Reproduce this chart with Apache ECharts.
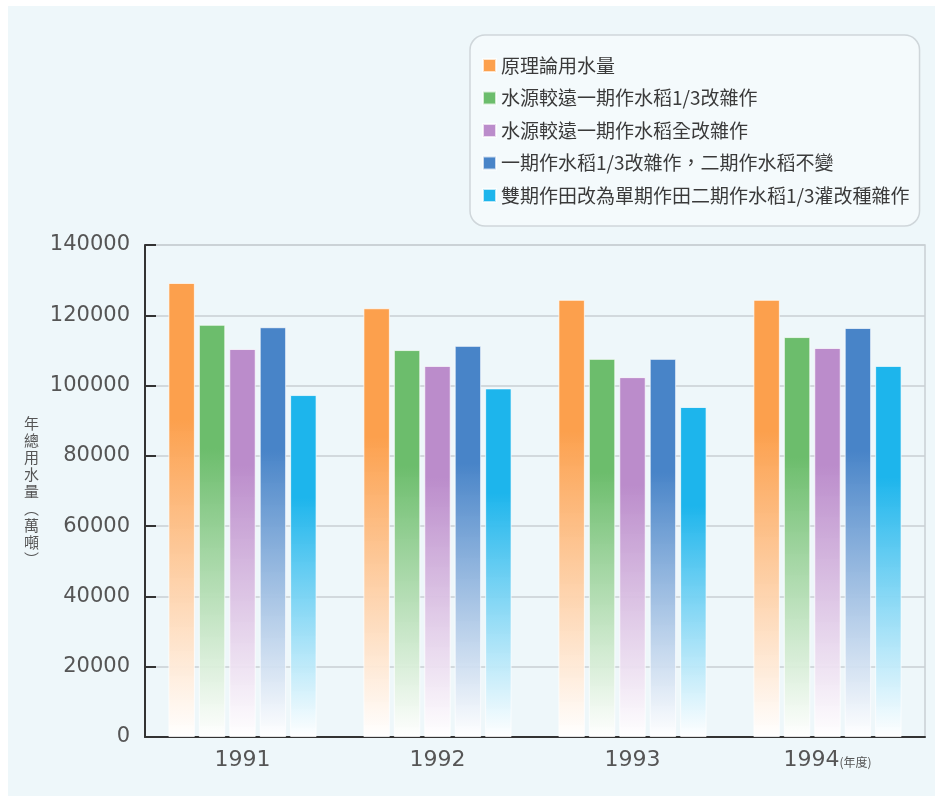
<!DOCTYPE html>
<html>
<head>
    <meta charset="utf-8">
    <title>年總用水量</title>
    <script src="https://cdn.jsdelivr.net/npm/echarts@6/dist/echarts.min.js"></script>
    <style>
        html, body { margin: 0; padding: 0; background: #fff; }
        #panel { position: absolute; left: 8px; top: 6px; width: 927px; height: 790px; background: #eef7fa; }
        #main { position: absolute; left: 0; top: 0; width: 935px; height: 796px; }
    </style>
</head>
<body>
<div id="panel"></div>
<div id="main"></div>
<script>
    // 年度
    var years = ['1991', '1992', '1993', '1994'];
    var yearUnit = '(年度)';

    // 各方案年總用水量（萬噸）
    var names = [
        '原理論用水量',
        '水源較遠一期作水稻1/3改雜作',
        '水源較遠一期作水稻全改雜作',
        '一期作水稻1/3改雜作，二期作水稻不變',
        '雙期作田改為單期作田二期作水稻1/3灌改種雜作'
    ];
    var s1 = [129200, 122000, 124400, 124400];
    var s2 = [117300, 110100, 107600, 113800];
    var s3 = [110400, 105600, 102400, 110700];
    var s4 = [116600, 111300, 107600, 116400];
    var s5 = [97300, 99200, 93900, 105600];
    var values = [s1, s2, s3, s4, s5];

    var colors = ['#fca04d', '#6cbd6c', '#bb8ccb', '#4884c8', '#1db5ec'];
    var font = '"Noto Sans CJK TC", "DejaVu Sans", sans-serif';
    var numFont = '"DejaVu Sans", sans-serif';

    function fade(c) {
        return new echarts.graphic.LinearGradient(0, 0, 0, 1, [
            {offset: 0, color: c},
            {offset: 0.3, color: c},
            {offset: 1, color: 'rgba(255,255,255,0.95)'}
        ]);
    }

    var series = [];
    for (var i = 0; i < names.length; i++) {
        series.push({
            name: names[i],
            type: 'bar',
            barGap: '15%',
            barCategoryGap: '24%',
            itemStyle: {
                color: fade(colors[i]),
                borderColor: 'rgba(255,255,255,0.7)',
                borderWidth: 1
            },
            data: values[i]
        });
    }

    var myChart = echarts.init(document.getElementById('main'));
    var option = {
        backgroundColor: 'transparent',
        animation: false,
        legend: {
            orient: 'vertical',
            left: 470,
            top: 35,
            padding: [21, 10, 21, 12],
            itemGap: 13.5,
            itemWidth: 13,
            itemHeight: 13,
            icon: 'rect',
            backgroundColor: '#f4fafc',
            borderColor: '#cfd6da',
            borderWidth: 1.5,
            borderRadius: 15,
            textStyle: {fontSize: 19, color: '#3a3a3a', fontFamily: font, lineHeight: 19},
            data: names.map(function (n, i) {
                return {name: n, itemStyle: {color: colors[i]}};
            })
        },
        grid: {
            left: 145,
            right: 10,
            top: 245,
            bottom: 59,
            show: true,
            borderColor: '#c9cfd3',
            borderWidth: 1.5
        },
        xAxis: {
            type: 'category',
            data: years,
            axisLine: {lineStyle: {color: '#333', width: 2}},
            axisTick: {show: false},
            axisLabel: {
                interval: 0,
                margin: 12,
                color: '#555',
                fontSize: 22,
                fontFamily: numFont,
                formatter: function (v, idx) {
                    return idx === years.length - 1 ? '{a|' + v + '}{b|' + yearUnit + '}' : v;
                },
                rich: {
                    a: {fontSize: 22, color: '#555', fontFamily: numFont},
                    b: {fontSize: 12, color: '#555', fontFamily: font, padding: [4, 0, 0, 0]}
                }
            }
        },
        yAxis: {
            type: 'value',
            min: 0,
            max: 140000,
            interval: 20000,
            name: '年\n總\n用\n水\n量\n︵\n萬\n噸\n︶',
            nameLocation: 'middle',
            nameRotate: 0,
            nameGap: 106,
            nameTextStyle: {fontSize: 15, lineHeight: 17, color: '#555', fontFamily: font, padding: [20, 0, 0, 0]},
            axisLine: {show: true, lineStyle: {color: '#333', width: 2}},
            axisTick: {show: true, inside: true, length: 11, lineStyle: {color: '#333', width: 2}},
            axisLabel: {
                margin: 15,
                color: '#555',
                fontSize: 21,
                fontFamily: numFont,
                formatter: function (v) { return String(v); }
            },
            splitLine: {lineStyle: {color: '#c9cfd3', width: 1.5}}
        },
        series: series
    };
    myChart.setOption(option);
</script>
</body>
</html>
